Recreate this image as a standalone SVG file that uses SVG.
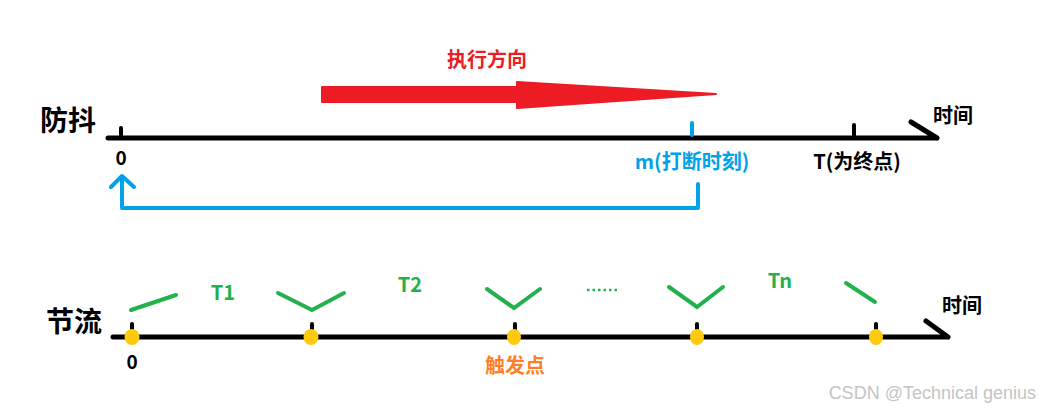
<svg xmlns="http://www.w3.org/2000/svg" width="1039" height="410" viewBox="0 0 1039 410">
<style>
.t{font-family:"Noto Sans CJK SC","Noto Sans",sans-serif;font-weight:bold}
.ax{stroke:#000;stroke-width:5;fill:none;stroke-linecap:round}
.tk{stroke:#000;stroke-width:4;stroke-linecap:round}
.g{stroke:#22b14c;stroke-width:4;fill:none;stroke-linecap:round;stroke-linejoin:miter}
.dot{fill:#ffc90e}
.blue{stroke:#00a2e8;stroke-width:4;fill:none;stroke-linecap:round;stroke-linejoin:round}
</style>
<rect width="1039" height="410" fill="#fff"/>
<g id="debounce">
<text class="t" x="40" y="131" font-size="28">防抖</text>
<path class="ax" d="M108 138H937M911 122L937 138"/>
<line class="tk" x1="121" y1="128" x2="121" y2="138"/>
<line class="tk" x1="854" y1="125" x2="854" y2="138"/>
<line x1="692" y1="123" x2="692" y2="135" stroke="#00a2e8" stroke-width="4" stroke-linecap="round"/>
<text class="t" x="121" y="165" font-size="19" text-anchor="middle">0</text>
<text class="t" x="692" y="169" font-size="20" fill="#00a2e8" text-anchor="middle">m(打断时刻)</text>
<text class="t" x="857" y="169" font-size="20" text-anchor="middle">T(为终点)</text>
<text class="t" x="933" y="123" font-size="20">时间</text>
</g>
<g id="direction">
<text class="t" x="487" y="67" font-size="20" fill="#ed1c24" text-anchor="middle">执行方向</text>
<path d="M322 87H517V82L716 94L517 108V102H322Z" fill="#ed1c24" stroke="#ed1c24" stroke-width="2" stroke-linejoin="round"/>
</g>
<g id="throttle">
<text class="t" x="46" y="332" font-size="28">节流</text>
<path class="ax" d="M113 337H948M926 321L948 337"/>
<line class="tk" x1="132" y1="324" x2="132" y2="337"/>
<line class="tk" x1="312" y1="324" x2="312" y2="337"/>
<line class="tk" x1="515" y1="324" x2="515" y2="337"/>
<line class="tk" x1="697" y1="324" x2="697" y2="337"/>
<line class="tk" x1="876" y1="324" x2="876" y2="337"/>
<ellipse class="dot" cx="132" cy="337" rx="7.5" ry="8"/>
<ellipse class="dot" cx="311" cy="337" rx="7.5" ry="8"/>
<ellipse class="dot" cx="514" cy="337" rx="7" ry="8"/>
<ellipse class="dot" cx="697" cy="337" rx="7" ry="8"/>
<ellipse class="dot" cx="876" cy="337" rx="7" ry="8"/>
<text class="t" x="132" y="369" font-size="19" text-anchor="middle">0</text>
<text class="t" x="515" y="373" font-size="20" fill="#ff7f27" text-anchor="middle">触发点</text>
<text class="t" x="942" y="313" font-size="20">时间</text>
<text class="t" x="223" y="300" font-size="20" fill="#22b14c" text-anchor="middle">T1</text>
<text class="t" x="410" y="292" font-size="20" fill="#22b14c" text-anchor="middle">T2</text>
<text class="t" x="780" y="288" font-size="20" fill="#22b14c" text-anchor="middle">Tn</text>
<line x1="587" y1="290" x2="620" y2="290" stroke="#22b14c" stroke-width="2.5" stroke-dasharray="2.5,3"/>
</g>
<g id="connectors">
<path class="blue" d="M698 184V208H122V177M111 187L122 176L134 187"/>
<path class="g" d="M131 310L176 295"/>
<path class="g" d="M278 293L312 310L344 293"/>
<path class="g" d="M487 289L514 308L540 289"/>
<path class="g" d="M669 287L697 307L723 287"/>
<path class="g" d="M846 283L875 302"/>
</g>
<text x="1036" y="399" font-family="Liberation Sans,sans-serif" font-size="18" fill="#c4c4c4" text-anchor="end">CSDN @Technical genius</text>
</svg>
